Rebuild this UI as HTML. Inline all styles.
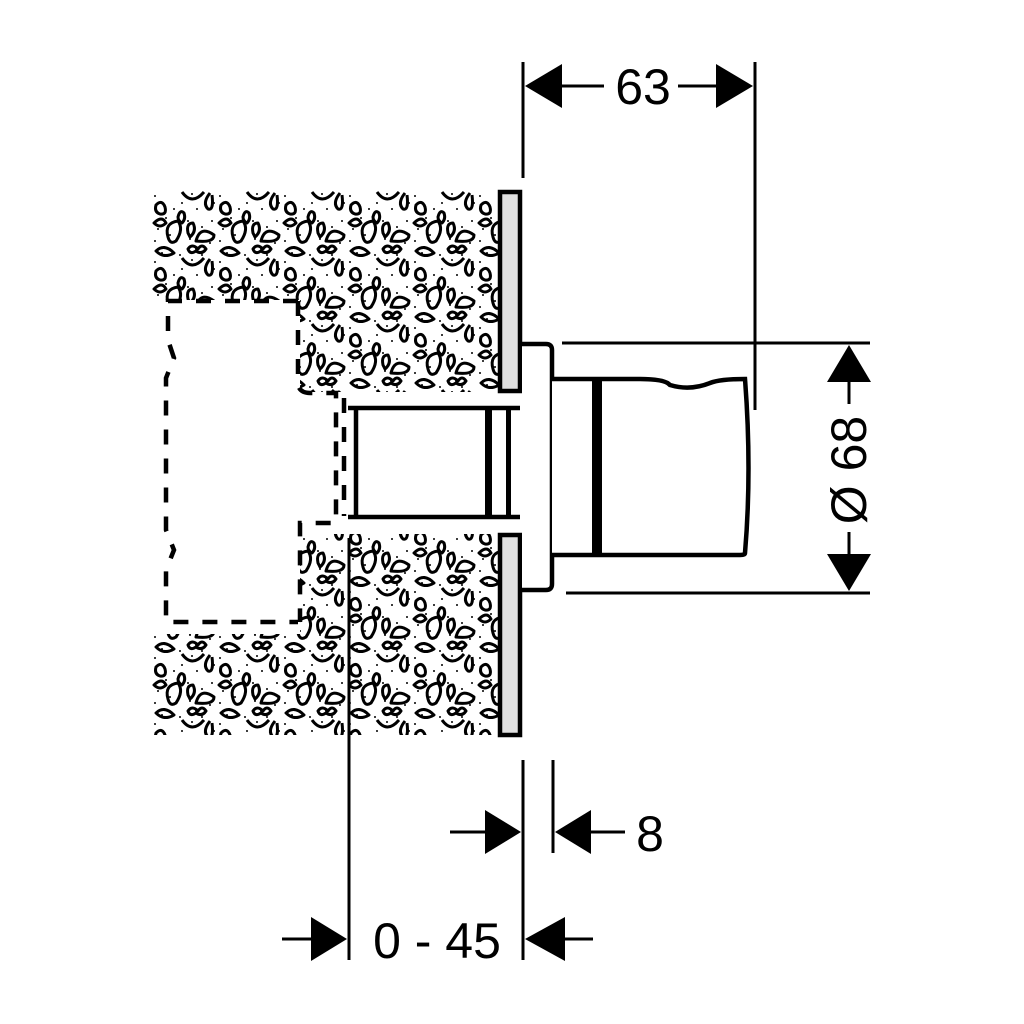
<!DOCTYPE html>
<html><head><meta charset="utf-8"><style>
html,body{margin:0;padding:0;background:#fff;width:1024px;height:1024px;overflow:hidden}
svg{display:block}
text{font-family:"Liberation Sans",sans-serif;fill:#000}
</style></head><body>
<svg width="1024" height="1024" viewBox="0 0 1024 1024" xmlns="http://www.w3.org/2000/svg">
<defs>
<pattern id="conc" x="152" y="191" width="65" height="66" patternUnits="userSpaceOnUse">
<rect width="65" height="66" fill="#fff"/>
<g fill="#000">
<circle cx="3" cy="5" r="1"/><circle cx="14" cy="27" r="1"/><circle cx="30" cy="12" r="1"/><circle cx="45" cy="18" r="1"/>
<circle cx="60" cy="30" r="1"/><circle cx="24" cy="30" r="1"/><circle cx="3" cy="50" r="1"/><circle cx="38" cy="48" r="1"/>
<circle cx="50" cy="64" r="1"/><circle cx="28" cy="64" r="1"/><circle cx="62" cy="12" r="1"/><circle cx="6" cy="38" r="1"/>
<circle cx="36" cy="30" r="1"/><circle cx="50" cy="36" r="1"/><circle cx="18" cy="44" r="1"/><circle cx="58" cy="52" r="1"/>
<circle cx="40" cy="3" r="1"/><circle cx="22" cy="18" r="1"/><circle cx="10" cy="62" r="1"/><circle cx="44" cy="58" r="1"/>
</g>
<g fill="none" stroke="#000" stroke-width="3" stroke-linejoin="round">
<path d="M30 1 q10 14 22 0"/>
<path d="M4 14 q6 -6 9 2 q2 8 -5 7 q-6 -2 -4 -9z"/>
<path d="M58 2 q-8 10 -2 16 q6 2 4 -14"/>
<path d="M26 26 q2 -8 6 -4 q2 6 -2 10 q-4 -2 -4 -6z"/>
<path d="M2 32 q8 -8 12 0 q-6 6 -12 0z"/>
<path d="M16 46 q-4 -14 10 -16 q6 8 -2 20 q-6 4 -8 -4z"/>
<path d="M36 42 q-2 -10 5 -10 q4 8 -3 14z"/>
<path d="M44 50 q4 -16 18 -6 q0 8 -18 6z"/>
<path d="M4 60 q8 -8 18 2 q-10 6 -18 -2z"/>
<path d="M36 58 q4 -6 10 0 q4 -6 8 0 q-4 6 -10 2 q-6 4 -8 -2z"/>
</g>
</pattern>
</defs>

<!-- concrete -->
<path d="M152 191 H498 V392 H300 V300 H152 Z" fill="url(#conc)"/>
<path d="M300 534 H498 V735 H152 V634 H300 Z" fill="url(#conc)"/>

<!-- dashed box -->
<g fill="none" stroke="#000" stroke-width="4.5" stroke-dasharray="15 14">
<path d="M298 301 H168 V340 L174 358 L166 378 V530 L174 550 L166 570 V622 H298"/>
<path d="M298 301 V385 Q300 393 310 393 H336 V523 H300 V622"/>
<path d="M344 398 V516"/>
</g>

<!-- plates -->
<rect x="500" y="192" width="20" height="199" fill="#e0e0e0" stroke="#000" stroke-width="4.5"/>
<rect x="500" y="535" width="20" height="200" fill="#e0e0e0" stroke="#000" stroke-width="4.5"/>

<!-- sleeve -->
<g fill="none" stroke="#000" stroke-width="4.5">
<path d="M348 408 H520 M348 517 H520"/>
<path d="M356 408 V517"/>
</g>
<rect x="485" y="408" width="7" height="109" fill="#000"/>
<rect x="506" y="408" width="5" height="109" fill="#000"/>

<!-- rosette -->
<path d="M522 344 H546 Q552 344 552 350 V584 Q552 590 546 590 H522" fill="#fff" stroke="#000" stroke-width="4.5"/>

<!-- handle -->
<path d="M552 379 H640 Q665 379 670 385 Q690 391 710 383 Q720 379 745 379 Q752 470 745 553 Q745 555 740 555 H552" fill="#fff" stroke="#000" stroke-width="4.5"/>
<rect x="592" y="381" width="10" height="172" fill="#000"/>

<!-- dimension lines -->
<g stroke="#000" stroke-width="3" fill="none">
<path d="M523 62 V178"/>
<path d="M755 62 V410"/>
<path d="M560 86 H604 M678 86 H718"/>
<path d="M562 343 H870 M566 593 H870"/>
<path d="M849 382 V404 M849 532 V555"/>
<path d="M523 760 V960"/>
<path d="M553 760 V853"/>
<path d="M450 832 H486 M590 832 H625"/>
<path d="M349 538 V960"/>
<path d="M282 939 H312 M564 939 H593"/>
</g>
<g fill="#000">
<polygon points="525,86 562,64 562,108"/>
<polygon points="753,86 716,64 716,108"/>
<polygon points="849,345 827,382 871,382"/>
<polygon points="849,591 827,554 871,554"/>
<polygon points="521,832 485,810 485,854"/>
<polygon points="555,832 591,810 591,854"/>
<polygon points="347,939 311,917 311,961"/>
<polygon points="525,939 565,917 565,961"/>
</g>

<text x="643" y="104" font-size="50" text-anchor="middle">63</text>
<text x="650" y="851" font-size="50" text-anchor="middle">8</text>
<text x="437" y="958" font-size="50" text-anchor="middle">0 - 45</text>
<text transform="translate(866 470) rotate(-90)" font-size="50" text-anchor="middle">Ø 68</text>
</svg>
</body></html>
